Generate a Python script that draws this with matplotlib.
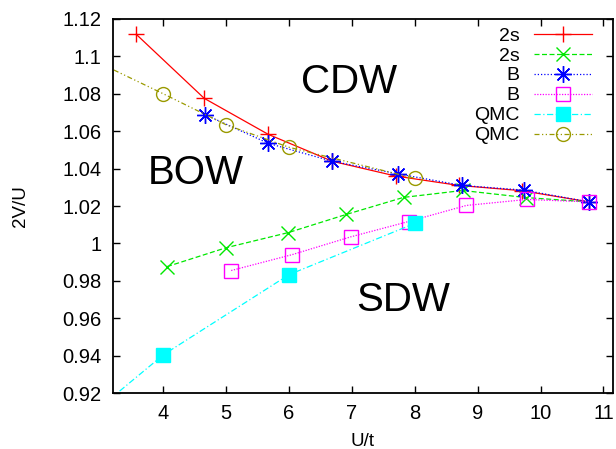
import matplotlib
matplotlib.use("Agg")
import matplotlib.pyplot as plt

plt.rcParams["font.family"] = ["Liberation Sans", "DejaVu Sans"]

# 2s (red, +)
u_2s_a = [3.57, 4.65, 5.67, 6.69, 7.70, 8.70, 9.70, 10.77]
v_2s_a = [1.1118, 1.0776, 1.0583, 1.0439, 1.0360, 1.0310, 1.0282, 1.0222]

# 2s (green, x)
u_2s_b = [4.06, 5.00, 5.99, 6.91, 7.82, 8.76, 9.77, 10.77]
v_2s_b = [0.9876, 0.9977, 1.0058, 1.0155, 1.0246, 1.0283, 1.0245, 1.0222]

# B (blue, star)
u_b_a = [4.67, 5.67, 6.69, 7.73, 8.75, 9.73, 10.77]
v_b_a = [1.0688, 1.0535, 1.0439, 1.0372, 1.0310, 1.0285, 1.0222]

# B (magenta, open square)
u_b_b = [5.08, 6.05, 6.98, 7.90, 8.82, 9.78, 10.77]
v_b_b = [0.9855, 0.9940, 1.0035, 1.0117, 1.0203, 1.0235, 1.0222]

# QMC (cyan, filled square)
u_qmc_a = [3.0, 4.0, 6.0, 8.0]
v_qmc_a = [0.9125, 0.9404, 0.9833, 1.0107]

# QMC (olive, open circle)
u_qmc_b = [3.0, 4.0, 5.0, 6.0, 8.0]
v_qmc_b = [1.0962, 1.0800, 1.0634, 1.0514, 1.0348]

y_ticks = [0.92, 0.94, 0.96, 0.98, 1.0, 1.02, 1.04, 1.06, 1.08, 1.1, 1.12]
y_tick_labels = ["0.92", "0.94", "0.96", "0.98", "1", "1.02", "1.04",
                 "1.06", "1.08", "1.1", "1.12"]
x_ticks = [4, 5, 6, 7, 8, 9, 10, 11]

fig = plt.figure(figsize=(6.16, 4.49), dpi=100)
ax = fig.add_axes([0.1834, 0.1247, 0.995 - 0.1834, 0.9577 - 0.1247])

lw = 0.9
ax.plot(u_2s_a, v_2s_a, color="#ff0000", lw=lw, marker="+", ms=12, mew=1.0,
        label="2s")
ax.plot(u_2s_b, v_2s_b, color="#00e800", lw=lw, ls=(0, (4, 2)), marker="x",
        ms=10, mew=1.0, label="2s")
ax.plot(u_b_a, v_b_a, color="#0000ff", lw=lw, ls=(0, (1, 1.6)),
        marker=(8, 2, 0), ms=12, mew=1.0, label="B")
ax.plot(u_b_b, v_b_b, color="#ff00ff", lw=lw, ls=(0, (1, 1.2)), marker="s",
        ms=10, mew=1.0, mfc="none", label="B")
ax.plot(u_qmc_a, v_qmc_a, color="#00ffff", lw=lw, ls=(0, (5, 2, 1, 2)),
        marker="s", ms=10, label="QMC")
ax.plot(u_qmc_b, v_qmc_b, color="#9a9a00", lw=lw,
        ls=(0, (4, 2, 1, 2, 1, 2)), marker="o", ms=10, mew=1.0, mfc="none",
        label="QMC")

ax.text(6.96, 1.0863, "CDW", fontsize=29, ha="center", va="center")
ax.text(4.51, 1.0376, "BOW", fontsize=29, ha="center", va="center")
ax.text(7.82, 0.9697, "SDW", fontsize=29, ha="center", va="center")

ax.set_xlim(3.2, 11.15)
ax.set_ylim(0.92, 1.12)
ax.set_xticks(x_ticks)
ax.set_yticks(y_ticks)
ax.set_yticklabels(y_tick_labels)
ax.tick_params(direction="in", top=True, right=True, length=5, width=1.0,
               labelsize=14.5, pad=8)
for sp in ax.spines.values():
    sp.set_linewidth(1.3)

ax.set_xlabel("U/t", fontsize=13.5, labelpad=7)
ax.set_ylabel("2V/U", fontsize=13.5, labelpad=24)

ax.legend(loc="upper right", bbox_to_anchor=(0.986, 1.015), frameon=False,
          markerfirst=False, fontsize=14, handlelength=3.0,
          labelspacing=0.12, borderaxespad=0.3, handletextpad=0.75)

fig.savefig("out.png", dpi=100)
